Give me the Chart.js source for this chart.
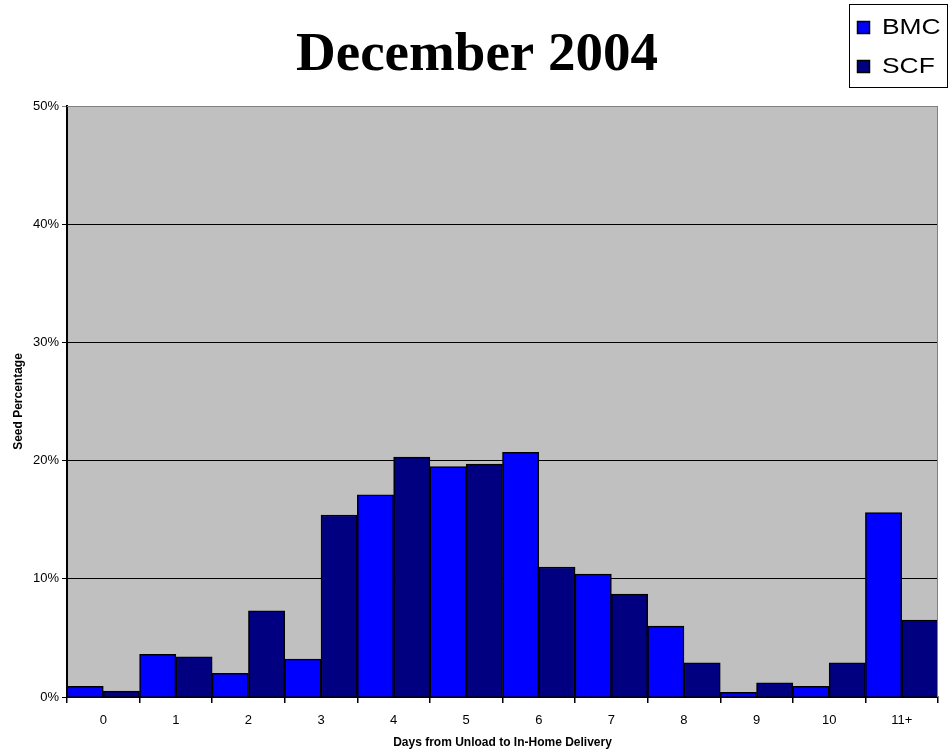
<!DOCTYPE html>
<html>
<head>
<meta charset="utf-8">
<title>December 2004</title>
<script src="https://cdn.jsdelivr.net/npm/chart.js@4/dist/chart.umd.min.js"></script>
<style>
  html, body { margin: 0; padding: 0; background: #ffffff; }
  canvas { display: block; }
</style>
</head>
<body>
<canvas id="chart" width="951" height="753"></canvas>
<script>
// Days from unload to in-home delivery
const categories = ['0', '1', '2', '3', '4', '5', '6', '7', '8', '9', '10', '11+'];
// Share of seeds delivered on each day (%)
const bmcValues = [0.9, 3.6, 2.0, 3.2, 17.1, 19.5, 20.7, 10.4, 6.0, 0.4, 0.9, 15.6];
const scfValues = [0.5, 3.4, 7.3, 15.4, 20.3, 19.7, 11.0, 8.7, 2.9, 1.2, 2.9, 6.5];
const yTicks = [0, 10, 20, 30, 40, 50];
const chartTitle = 'December 2004';

const FONT = '"Liberation Sans", Arial, sans-serif';

// Grey plot area with a grey frame on the top and right edges
const plotArea = {
  id: 'plotArea',
  beforeDraw(chart) {
    const { ctx, chartArea: a } = chart;
    ctx.save();
    ctx.fillStyle = '#c0c0c0';
    ctx.fillRect(a.left, a.top, a.right - a.left, a.bottom - a.top);
    ctx.restore();
  },
  afterDraw(chart) {
    const { ctx, chartArea: a } = chart;
    ctx.save();
    ctx.strokeStyle = '#808080';
    ctx.lineWidth = 1;
    ctx.beginPath();
    ctx.moveTo(a.left, a.top + 0.5);
    ctx.lineTo(a.right - 0.5, a.top + 0.5);
    ctx.lineTo(a.right - 0.5, a.bottom);
    ctx.stroke();
    ctx.restore();
  }
};

// Page title, centred over the whole page
const pageTitle = {
  id: 'pageTitle',
  afterDraw(chart) {
    const { ctx } = chart;
    ctx.save();
    ctx.fillStyle = '#000000';
    ctx.font = 'bold 55px "Liberation Serif", "Times New Roman", serif';
    ctx.textAlign = 'center';
    ctx.textBaseline = 'alphabetic';
    ctx.fillText(chartTitle, 477, 70);
    ctx.restore();
  }
};

// Boxed legend in the top-right corner
const boxLegend = {
  id: 'boxLegend',
  afterDraw(chart) {
    const { ctx } = chart;
    ctx.save();
    ctx.fillStyle = '#ffffff';
    ctx.fillRect(849, 4, 99, 84);
    ctx.strokeStyle = '#000000';
    ctx.lineWidth = 1;
    ctx.strokeRect(849.5, 4.5, 98, 83);
    const rows = [27, 66];
    chart.data.datasets.forEach((ds, i) => {
      const y = rows[i];
      ctx.fillStyle = ds.backgroundColor;
      ctx.fillRect(857, y - 6, 13, 13);
      ctx.strokeStyle = '#000000';
      ctx.lineWidth = 1.5;
      ctx.strokeRect(857.5, y - 5.5, 12, 12);
      ctx.fillStyle = '#000000';
      ctx.font = '22px ' + FONT;
      ctx.textAlign = 'left';
      ctx.textBaseline = 'middle';
      ctx.save();
      ctx.translate(882, y + 1);
      ctx.scale(1.2, 1);
      ctx.fillText(ds.label, 0, 0);
      ctx.restore();
    });
    ctx.restore();
  }
};

new Chart(document.getElementById('chart'), {
  type: 'bar',
  data: {
    labels: categories,
    datasets: [
      {
        label: 'BMC',
        data: bmcValues,
        backgroundColor: '#0000ff',
        borderColor: '#000000',
        borderWidth: 1.5,
        categoryPercentage: 1.0,
        barPercentage: 1.0
      },
      {
        label: 'SCF',
        data: scfValues,
        backgroundColor: '#000080',
        borderColor: '#000000',
        borderWidth: 1.5,
        categoryPercentage: 1.0,
        barPercentage: 1.0
      }
    ]
  },
  options: {
    responsive: false,
    animation: false,
    devicePixelRatio: 1,
    layout: { padding: { left: 0, right: 13, top: 106, bottom: 0 } },
    plugins: {
      legend: { display: false },
      tooltip: { enabled: false },
      title: { display: false }
    },
    scales: {
      x: {
        type: 'category',
        offset: true,
        border: { display: true, color: '#000000', width: 2 },
        grid: {
          offset: true,
          drawOnChartArea: false,
          drawTicks: true,
          tickLength: 6,
          color: '#000000',
          lineWidth: 1.5
        },
        ticks: {
          color: '#000000',
          font: { family: FONT, size: 13 },
          padding: 10,
          maxRotation: 0,
          autoSkip: false
        },
        title: {
          display: true,
          text: 'Days from Unload to In-Home Delivery',
          color: '#000000',
          font: { family: FONT, size: 12, weight: 'bold', lineHeight: 1.2 },
          padding: { top: 4, bottom: 3 }
        },
        afterFit(scale) { scale.height = 56; }
      },
      y: {
        min: 0,
        max: 50,
        border: { display: true, color: '#000000', width: 2 },
        grid: {
          drawTicks: true,
          tickLength: 5,
          lineWidth: 1,
          color: (c) => (c.tick && c.tick.value === 50 ? '#808080' : '#000000')
        },
        afterBuildTicks(scale) {
          scale.ticks = yTicks.map(v => ({ value: v }));
        },
        ticks: {
          color: '#000000',
          font: { family: FONT, size: 13 },
          padding: 3,
          callback: (v) => v + '%'
        },
        title: {
          display: true,
          text: 'Seed Percentage',
          color: '#000000',
          font: { family: FONT, size: 12, weight: 'bold', lineHeight: 1.2 },
          padding: { top: 11, bottom: 0 }
        },
        afterFit(scale) { scale.width = 67; }
      }
    }
  },
  plugins: [plotArea, pageTitle, boxLegend]
});
</script>
</body>
</html>
